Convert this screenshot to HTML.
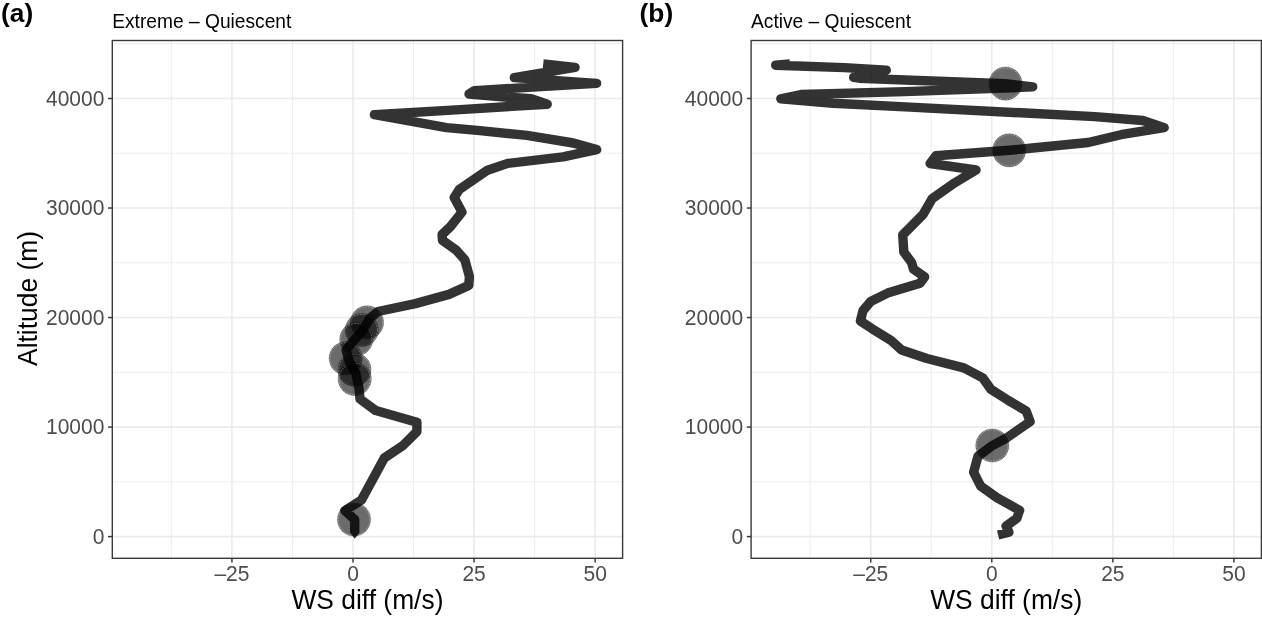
<!DOCTYPE html>
<html><head><meta charset="utf-8"><title>WS diff vs altitude</title>
<style>
html,body{margin:0;padding:0;background:#fff;}
body{width:1262px;height:617px;overflow:hidden;position:relative;font-family:"Liberation Sans",sans-serif;}
svg{position:absolute;left:0;top:0;display:block;}
text{-webkit-font-smoothing:antialiased;}
.txt{opacity:0.999;will-change:transform;}
.gm{stroke:#ebebeb;stroke-width:0.9;fill:none;}
.gM{stroke:#ebebeb;stroke-width:1.6;fill:none;}
.bd{fill:none;stroke:#3a3a3a;stroke-width:1.4;}
.tk{stroke:#3a3a3a;stroke-width:1.5;}
.yl{font-family:"Liberation Sans",sans-serif;font-size:21px;fill:#4d4d4d;text-anchor:end;}
.xl{font-family:"Liberation Sans",sans-serif;font-size:21px;fill:#4d4d4d;text-anchor:middle;}
.ln{fill:none;stroke:#000;stroke-opacity:0.8;stroke-width:9.4;stroke-linejoin:round;stroke-linecap:butt;}
.pt{fill:#000;fill-opacity:0.58;stroke:#000;stroke-opacity:0.25;stroke-width:0.9;}
.pr{fill:none;stroke:#fff;stroke-opacity:0.42;stroke-width:0.8;stroke-dasharray:2.2 0.9;}
.ttl{font-family:"Liberation Sans",sans-serif;font-size:19.2px;fill:#000;}
.tag{font-family:"Liberation Sans",sans-serif;font-size:26.3px;font-weight:bold;fill:#000;}
.axt{font-family:"Liberation Sans",sans-serif;font-size:26.4px;fill:#000;text-anchor:middle;}
</style></head>
<body>
<svg width="1262" height="617" viewBox="0 0 1262 617">
<rect x="0" y="0" width="1262" height="617" fill="#fff"/>
<line x1="171.4" y1="40.5" x2="171.4" y2="558.3" class="gm"/>
<line x1="292.47" y1="40.5" x2="292.47" y2="558.3" class="gm"/>
<line x1="413.53" y1="40.5" x2="413.53" y2="558.3" class="gm"/>
<line x1="534.61" y1="40.5" x2="534.61" y2="558.3" class="gm"/>
<line x1="112.3" y1="481.84" x2="622.6" y2="481.84" class="gm"/>
<line x1="112.3" y1="372.31" x2="622.6" y2="372.31" class="gm"/>
<line x1="112.3" y1="262.79" x2="622.6" y2="262.79" class="gm"/>
<line x1="112.3" y1="153.26" x2="622.6" y2="153.26" class="gm"/>
<line x1="112.3" y1="43.74" x2="622.6" y2="43.74" class="gm"/>
<line x1="231.93" y1="40.5" x2="231.93" y2="558.3" class="gM"/>
<line x1="353" y1="40.5" x2="353" y2="558.3" class="gM"/>
<line x1="474.07" y1="40.5" x2="474.07" y2="558.3" class="gM"/>
<line x1="595.14" y1="40.5" x2="595.14" y2="558.3" class="gM"/>
<line x1="112.3" y1="536.6" x2="622.6" y2="536.6" class="gM"/>
<line x1="112.3" y1="427.08" x2="622.6" y2="427.08" class="gM"/>
<line x1="112.3" y1="317.55" x2="622.6" y2="317.55" class="gM"/>
<line x1="112.3" y1="208.03" x2="622.6" y2="208.03" class="gM"/>
<line x1="112.3" y1="98.5" x2="622.6" y2="98.5" class="gM"/>
<line x1="810.19" y1="40.5" x2="810.19" y2="558.3" class="gm"/>
<line x1="931.26" y1="40.5" x2="931.26" y2="558.3" class="gm"/>
<line x1="1052.34" y1="40.5" x2="1052.34" y2="558.3" class="gm"/>
<line x1="1173.4" y1="40.5" x2="1173.4" y2="558.3" class="gm"/>
<line x1="751.1" y1="481.84" x2="1261.4" y2="481.84" class="gm"/>
<line x1="751.1" y1="372.31" x2="1261.4" y2="372.31" class="gm"/>
<line x1="751.1" y1="262.79" x2="1261.4" y2="262.79" class="gm"/>
<line x1="751.1" y1="153.26" x2="1261.4" y2="153.26" class="gm"/>
<line x1="751.1" y1="43.74" x2="1261.4" y2="43.74" class="gm"/>
<line x1="870.73" y1="40.5" x2="870.73" y2="558.3" class="gM"/>
<line x1="991.8" y1="40.5" x2="991.8" y2="558.3" class="gM"/>
<line x1="1112.87" y1="40.5" x2="1112.87" y2="558.3" class="gM"/>
<line x1="1233.94" y1="40.5" x2="1233.94" y2="558.3" class="gM"/>
<line x1="751.1" y1="536.6" x2="1261.4" y2="536.6" class="gM"/>
<line x1="751.1" y1="427.08" x2="1261.4" y2="427.08" class="gM"/>
<line x1="751.1" y1="317.55" x2="1261.4" y2="317.55" class="gM"/>
<line x1="751.1" y1="208.03" x2="1261.4" y2="208.03" class="gM"/>
<line x1="751.1" y1="98.5" x2="1261.4" y2="98.5" class="gM"/>
<circle cx="354" cy="519.5" r="16.6" class="pt"/><circle cx="354" cy="519.5" r="15.7" class="pr"/>
<circle cx="367" cy="322.4" r="16.6" class="pt"/><circle cx="367" cy="322.4" r="15.7" class="pr"/>
<circle cx="361.8" cy="330" r="16.6" class="pt"/><circle cx="361.8" cy="330" r="15.7" class="pr"/>
<circle cx="356.3" cy="339.2" r="16.6" class="pt"/><circle cx="356.3" cy="339.2" r="15.7" class="pr"/>
<circle cx="345.7" cy="358.3" r="16.6" class="pt"/><circle cx="345.7" cy="358.3" r="15.7" class="pr"/>
<circle cx="354.5" cy="369.7" r="16.6" class="pt"/><circle cx="354.5" cy="369.7" r="15.7" class="pr"/>
<circle cx="354.7" cy="378.9" r="16.6" class="pt"/><circle cx="354.7" cy="378.9" r="15.7" class="pr"/>
<clipPath id="cpa"><path clip-rule="evenodd" d="M0 0H1262V617H0Z M340 526H345.3L354.6 538.8L365.2 526H370V546H340Z"/></clipPath>
<polyline class="ln" clip-path="url(#cpa)" points="354.7,542 354.7,519.5 344.8,510.6 361.5,500 384.3,458 403.2,445.3 416.9,431.6 416.9,422.2 375.8,410.6 360,399 359,388.4 355.8,372.9 349.3,361.6 346.1,350.2 350.9,343.8 362.3,330.8 370.4,317.8 378,311.5 415.4,303.6 449,294.4 468.8,285.4 469.4,276.4 464.9,259.9 456.2,250.1 442.5,240.4 442.1,234.5 450.3,226.8 462,212.1 454.2,197.5 459.1,189.7 487.5,170.2 507.7,163.4 563.1,156.9 596.7,149.6 573.3,143 527,135.4 480,130.6 446.5,127.6 374.4,114.7 460,109.6 547.2,104.2 531.3,98.7 507.5,97.2 469,94 474.5,90.6 596.6,83.4 514.3,77.6 575,67.4 543.2,64"/>
<circle cx="992.3" cy="445.5" r="16.6" class="pt"/><circle cx="992.3" cy="445.5" r="15.7" class="pr"/>
<circle cx="1009.2" cy="150.3" r="16.6" class="pt"/><circle cx="1009.2" cy="150.3" r="15.7" class="pr"/>
<circle cx="1005.5" cy="83.6" r="16.6" class="pt"/><circle cx="1005.5" cy="83.6" r="15.7" class="pr"/>
<polyline class="ln" points="998.1,535 1008.9,532.3 1006.1,526.1 1016.9,518.3 1019.6,510.3 997.2,497.9 980.7,486.2 973.6,472.2 978,456.3 992.3,445.6 1006.5,438 1030.1,421.6 1026.2,411 1008.7,400.6 990.8,389.2 982.7,377.8 963.8,367.9 926.9,358.5 901.6,350 891.1,340.6 872,328.7 860.4,321 863,310.6 870.7,301.5 887.6,293.1 920,283.3 924.6,276.9 913.5,269.1 911.6,262.6 903.8,251.9 902.7,234.9 909.5,228.1 923.1,214.4 932.2,198.6 954.9,182.7 976,170 930.1,163.5 935.9,155.7 1009.2,150.3 1030,148.3 1088.3,142.5 1120.8,134.7 1164.2,127.6 1142.8,120.5 1094.8,116.6 1030,113.3 910,107.1 833.1,103.3 780.8,98.8 801,94.5 905,91.6 1032.7,86.9 1005.5,83.6 905,80 859.2,78.2 853.7,77.4 886.3,70.2 844.4,67.6 775.7,65.3 790,63.9"/>
<g class="txt">
<rect x="112.3" y="40.5" width="510.3" height="517.8" class="bd"/>
<line x1="108" y1="536.6" x2="112.3" y2="536.6" class="tk"/>
<text transform="translate(104.4 544) scale(1 1.05)" class="yl">0</text>
<line x1="108" y1="427.08" x2="112.3" y2="427.08" class="tk"/>
<text transform="translate(104.4 434.48) scale(1 1.05)" class="yl">10000</text>
<line x1="108" y1="317.55" x2="112.3" y2="317.55" class="tk"/>
<text transform="translate(104.4 324.95) scale(1 1.05)" class="yl">20000</text>
<line x1="108" y1="208.03" x2="112.3" y2="208.03" class="tk"/>
<text transform="translate(104.4 215.43) scale(1 1.05)" class="yl">30000</text>
<line x1="108" y1="98.5" x2="112.3" y2="98.5" class="tk"/>
<text transform="translate(104.4 105.9) scale(1 1.05)" class="yl">40000</text>
<line x1="231.93" y1="558.3" x2="231.93" y2="562.6" class="tk"/>
<text transform="translate(231.93 581.3) scale(1 1.05)" class="xl">–25</text>
<line x1="353" y1="558.3" x2="353" y2="562.6" class="tk"/>
<text transform="translate(353 581.3) scale(1 1.05)" class="xl">0</text>
<line x1="474.07" y1="558.3" x2="474.07" y2="562.6" class="tk"/>
<text transform="translate(474.07 581.3) scale(1 1.05)" class="xl">25</text>
<line x1="595.14" y1="558.3" x2="595.14" y2="562.6" class="tk"/>
<text transform="translate(595.14 581.3) scale(1 1.05)" class="xl">50</text>
<rect x="751.1" y="40.5" width="510.3" height="517.8" class="bd"/>
<line x1="746.8" y1="536.6" x2="751.1" y2="536.6" class="tk"/>
<text transform="translate(743.2 544) scale(1 1.05)" class="yl">0</text>
<line x1="746.8" y1="427.08" x2="751.1" y2="427.08" class="tk"/>
<text transform="translate(743.2 434.48) scale(1 1.05)" class="yl">10000</text>
<line x1="746.8" y1="317.55" x2="751.1" y2="317.55" class="tk"/>
<text transform="translate(743.2 324.95) scale(1 1.05)" class="yl">20000</text>
<line x1="746.8" y1="208.03" x2="751.1" y2="208.03" class="tk"/>
<text transform="translate(743.2 215.43) scale(1 1.05)" class="yl">30000</text>
<line x1="746.8" y1="98.5" x2="751.1" y2="98.5" class="tk"/>
<text transform="translate(743.2 105.9) scale(1 1.05)" class="yl">40000</text>
<line x1="870.73" y1="558.3" x2="870.73" y2="562.6" class="tk"/>
<text transform="translate(870.73 581.3) scale(1 1.05)" class="xl">–25</text>
<line x1="991.8" y1="558.3" x2="991.8" y2="562.6" class="tk"/>
<text transform="translate(991.8 581.3) scale(1 1.05)" class="xl">0</text>
<line x1="1112.87" y1="558.3" x2="1112.87" y2="562.6" class="tk"/>
<text transform="translate(1112.87 581.3) scale(1 1.05)" class="xl">25</text>
<line x1="1233.94" y1="558.3" x2="1233.94" y2="562.6" class="tk"/>
<text transform="translate(1233.94 581.3) scale(1 1.05)" class="xl">50</text>
<text x="1.0" y="21.6" class="tag">(a)</text>
<text x="639.6" y="21.6" class="tag">(b)</text>
<text transform="translate(112.2 28) scale(1 1.05)" class="ttl">Extreme – Quiescent</text>
<text transform="translate(751 28) scale(1 1.05)" class="ttl">Active – Quiescent</text>
<text transform="translate(367.45 608.6) scale(1 1.04)" class="axt">WS diff (m/s)</text>
<text transform="translate(1006.2 608.6) scale(1 1.04)" class="axt">WS diff (m/s)</text>
<text x="0" y="0" class="axt" transform="translate(37.2 298.5) rotate(-90) scale(1 1.04)">Altitude (m)</text>
</g>
</svg>
</body></html>
